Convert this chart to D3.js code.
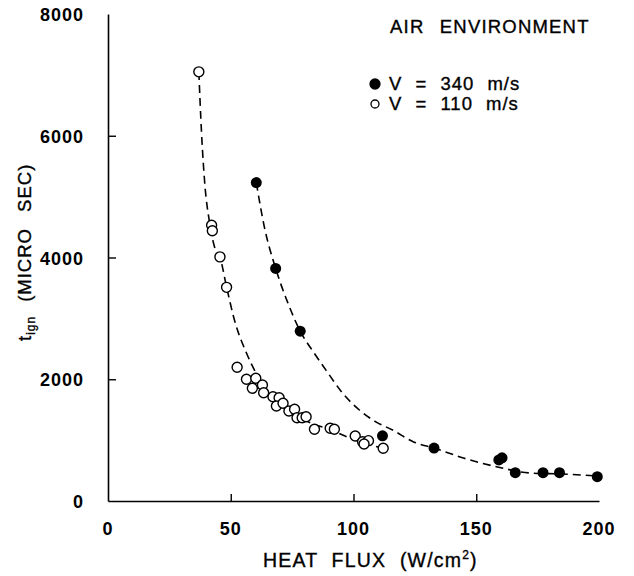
<!DOCTYPE html>
<html>
<head>
<meta charset="utf-8">
<script src="https://cdn.jsdelivr.net/npm/d3@7"></script>
<style>
  body { margin: 0; background: #fff; }
  svg text { font-family: 'Liberation Sans', Arial, sans-serif; fill: #000; }
  svg text.heavy { stroke: #000; stroke-width: 0.35px; }
</style>
</head>
<body>
<div id="chart"></div>
<script>
// V = 110 m/s (open circles)
const openX = [37.0, 42.2, 42.5, 45.6, 48.3, 52.6, 56.4, 60.2, 58.8, 62.9, 63.4, 67.2, 69.7, 68.6, 71.3,
  73.7, 76.0, 77.0, 79.1, 80.7, 84.1, 90.5, 92.2, 100.7, 103.7, 106.1, 104.3, 112.1]
const openY = [7050, 4530, 4440, 4010, 3510, 2196, 1999, 2016, 1851, 1906, 1779, 1713, 1697, 1561, 1605,
  1478, 1506, 1368, 1368, 1385, 1178, 1194, 1178, 1068, 974, 991, 936, 866]

// V = 340 m/s (filled circles)
const fullX = [60.4, 68.3, 78.3, 111.8, 132.8, 159.2, 160.5, 165.9, 177.2, 183.9, 199.3]
const fullY = [5230, 3820, 2790, 1070, 870, 675, 710, 465, 465, 465, 400]

// dashed fit curves
const openCurveX = [37.0, 38.1, 39.4, 41.4, 43.4, 45.6, 48.3, 51.5, 56.4, 61.1, 65.2, 71.0, 77.4, 84.0, 90.9, 97.0, 103.0, 112.1]
const openCurveY = [7050, 6045, 5224, 4567, 4172, 4010, 3515, 2973, 2431, 2042, 1774, 1560, 1380, 1260, 1166, 1060, 969, 866]
const fullCurveX = [60.4, 63.7, 68.3, 73.3, 78.3, 83.8, 88.8, 95.6, 102.4, 109.1, 115.9, 124.5, 132.8, 144.8, 158.6, 172.0, 185.4, 199.3]
const fullCurveY = [5230, 4500, 3820, 3250, 2790, 2440, 2150, 1770, 1495, 1300, 1166, 970, 870, 706, 560, 460, 444, 410]

const xTicks = [0, 50, 100, 150, 200]
const yTicks = [0, 2000, 4000, 6000, 8000]

const width = 634
const height = 576

const x = d3.scaleLinear().domain([0, 200]).range([108, 599])
const y = d3.scaleLinear().domain([0, 8000]).range([501, 14])

const svg = d3.select('#chart').append('svg')
  .attr('width', width)
  .attr('height', height)

// axes, ticks point inwards
const xAxis = svg.append('g')
  .attr('transform', `translate(0, ${y(0)})`)
  .call(d3.axisTop(x).tickValues(xTicks).tickSize(7).tickSizeOuter(0).tickFormat(''))
const yAxis = svg.append('g')
  .attr('transform', `translate(${x(0)}, 0)`)
  .call(d3.axisRight(y).tickValues(yTicks).tickSize(8).tickSizeOuter(0).tickFormat(''))

;[xAxis, yAxis].forEach(g => {
  g.select('.domain').attr('stroke', '#000').attr('stroke-width', 1.6)
  g.selectAll('.tick line').attr('stroke', '#000').attr('stroke-width', 1.4)
})
xAxis.selectAll('.tick').filter(d => d === 0 || d === 200).select('line').remove()
yAxis.selectAll('.tick').filter(d => d === 0 || d === 8000).select('line').remove()

svg.append('g').selectAll('text')
  .data(xTicks)
  .enter().append('text')
  .attr('x', d => x(d))
  .attr('y', 535)
  .attr('text-anchor', 'middle')
  .style('font-size', '18px')
  .style('font-weight', 'bold')
  .style('letter-spacing', '1px')
  .text(d => d)

svg.append('g').selectAll('text')
  .data(yTicks)
  .enter().append('text')
  .attr('x', 84)
  .attr('y', d => y(d) + 7)
  .attr('text-anchor', 'end')
  .style('font-size', '18px')
  .style('font-weight', 'bold')
  .style('letter-spacing', '1px')
  .text(d => d)

// axis titles
const xTitle = svg.append('text')
  .attr('class', 'heavy')
  .attr('x', 263)
  .attr('y', 567)
  .style('font-size', '19.5px')
  .style('letter-spacing', '1.2px')
  .style('word-spacing', '7px')
xTitle.append('tspan').text('HEAT FLUX (W/cm')
xTitle.append('tspan').attr('dy', -8).style('font-size', '12px').text('2')
xTitle.append('tspan').attr('dy', 8).text(')')

const yTitle = svg.append('text')
  .attr('class', 'heavy')
  .attr('transform', 'translate(31, 341) rotate(-90)')
  .attr('text-anchor', 'start')
  .style('font-size', '18.5px')
  .style('letter-spacing', '1px')
  .style('word-spacing', '10px')
yTitle.append('tspan').text('t')
yTitle.append('tspan').attr('dy', 4).style('font-size', '12px').text('ign')
yTitle.append('tspan').attr('dy', -4).attr('dx', 14).text('(MICRO SEC)')

// fit curves
const line = d3.line()
  .x(d => x(d[0]))
  .y(d => y(d[1]))
  .curve(d3.curveMonotoneX)

const curves = [d3.zip(openCurveX, openCurveY), d3.zip(fullCurveX, fullCurveY)]
svg.append('g').selectAll('path')
  .data(curves)
  .enter().append('path')
  .attr('d', line)
  .attr('fill', 'none')
  .attr('stroke', '#000')
  .attr('stroke-width', 1.6)
  .attr('stroke-dasharray', '8,5')

// markers
svg.append('g').selectAll('circle')
  .data(d3.zip(openX, openY))
  .enter().append('circle')
  .attr('cx', d => x(d[0]))
  .attr('cy', d => y(d[1]))
  .attr('r', 5)
  .attr('fill', '#fff')
  .attr('stroke', '#000')
  .attr('stroke-width', 1.4)

svg.append('g').selectAll('circle')
  .data(d3.zip(fullX, fullY))
  .enter().append('circle')
  .attr('cx', d => x(d[0]))
  .attr('cy', d => y(d[1]))
  .attr('r', 5.5)
  .attr('fill', '#000')

// legend
const legend = svg.append('g')
legend.append('text')
  .attr('class', 'heavy')
  .attr('x', 390)
  .attr('y', 33)
  .style('font-size', '18.5px')
  .style('letter-spacing', '1.2px')
  .style('word-spacing', '9px')
  .text('AIR ENVIRONMENT')

const legendItems = [
  { label: 'V = 340 m/s', fill: '#000', r: 5 },
  { label: 'V = 110 m/s', fill: '#fff', r: 4 }
]
const item = legend.selectAll('g.item')
  .data(legendItems)
  .enter().append('g')
  .attr('class', 'item')
  .attr('transform', (d, i) => `translate(0, ${84 + i * 20})`)
item.append('circle')
  .attr('cx', 375)
  .attr('cy', 0)
  .attr('r', d => d.r)
  .attr('fill', d => d.fill)
  .attr('stroke', '#000')
  .attr('stroke-width', 1.3)
item.append('text')
  .attr('class', 'heavy')
  .attr('x', 389)
  .attr('y', 6)
  .style('font-size', '18.5px')
  .style('letter-spacing', '1px')
  .style('word-spacing', '7px')
  .text(d => d.label)
</script>
</body>
</html>
